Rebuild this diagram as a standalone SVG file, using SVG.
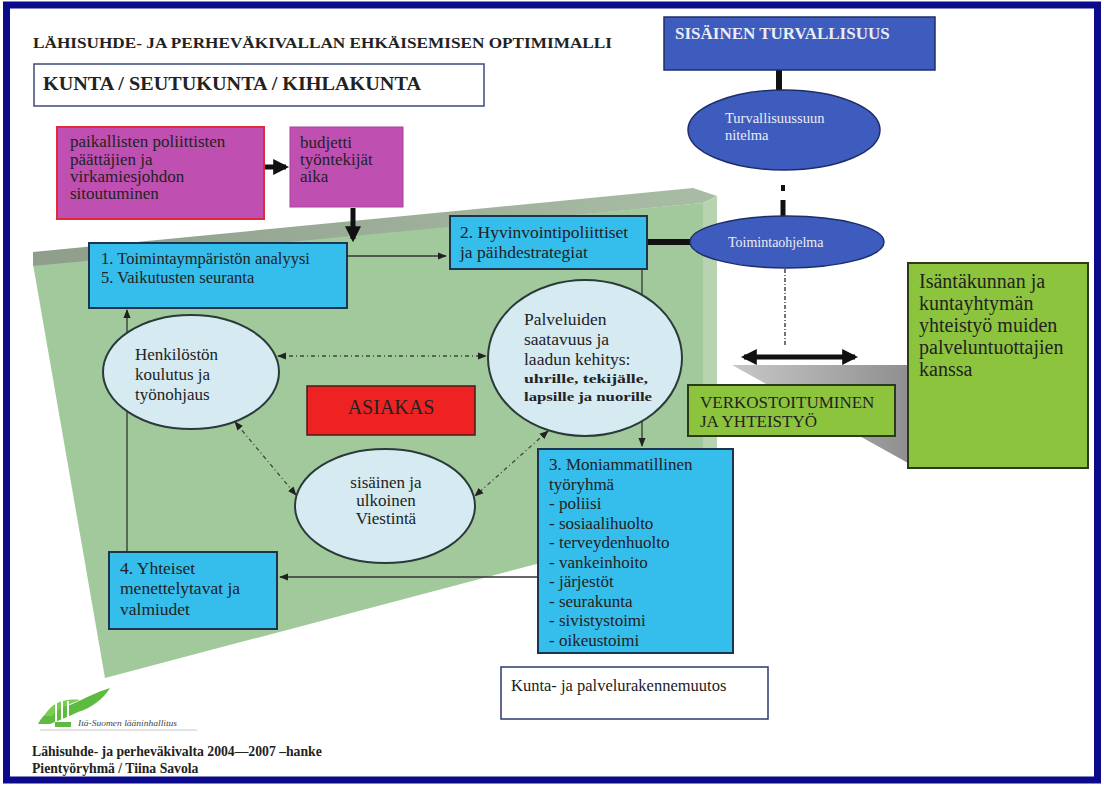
<svg xmlns="http://www.w3.org/2000/svg" width="1104" height="785" viewBox="0 0 1104 785" font-family="'Liberation Serif', 'Times New Roman', serif">
<defs>
<style>
.t{fill:#222;}
.b{font-weight:bold;}
.cyan{fill:#35BDEC;stroke:#1B3550;stroke-width:2;}
.pink{fill:#C04FB2;}
.oval{fill:#D6EAF2;stroke:#2a3a3a;stroke-width:2;}
.blue{fill:#3D5CBE;stroke:#1E2E6A;stroke-width:1.5;}
.lime{fill:#8DC43D;stroke:#2B3A1A;stroke-width:2;}
.thin{stroke:#333;stroke-width:1.3;fill:none;}
.thick{stroke:#111;stroke-width:5;fill:none;}
.dd{stroke:#3a4a3a;stroke-width:1.3;fill:none;stroke-dasharray:4 3 1 3;}
.wt{fill:#ECECF4;}
</style>
<marker id="ah" viewBox="0 0 10 10" refX="9" refY="5" markerWidth="7" markerHeight="7" orient="auto-start-reverse"><path d="M0,1 L10,5 L0,9 z" fill="#222"/></marker>
<marker id="ahb" viewBox="0 0 10 10" refX="8" refY="5" markerWidth="3.2" markerHeight="3.2" orient="auto-start-reverse"><path d="M0,0 L10,5 L0,10 z" fill="#111"/></marker>
<linearGradient id="topg" x1="0" y1="0" x2="1" y2="0"><stop offset="0" stop-color="#8E9E8B"/><stop offset="1" stop-color="#A9BDA5"/></linearGradient>
<linearGradient id="grayg" x1="0" y1="0" x2="1" y2="0"><stop offset="0" stop-color="#C8C8C8"/><stop offset="1" stop-color="#8F8F8F"/></linearGradient>
</defs>
<rect x="0" y="0" width="1104" height="785" fill="#fff"/>
<rect x="6.5" y="5" width="1091" height="775" fill="#fff" stroke="#0A0A8A" stroke-width="7"/>

<g id="slab">
<polygon points="33,264 703,203 703,520 105,678" fill="#A2C99C"/>
<polygon points="33,252 693,188 717,196 703,203 33,266" fill="url(#topg)"/>
<polygon points="703,203 717,196 717,513 703,520" fill="#B7D3B0"/>
</g>

<polygon id="shadow" points="732,365 908,365 908,463" fill="url(#grayg)"/>

<text class="t b" x="33" y="48" font-size="14.5" textLength="579" lengthAdjust="spacingAndGlyphs">LÄHISUHDE- JA PERHEVÄKIVALLAN EHKÄISEMISEN OPTIMIMALLI</text>

<g id="kunta">
<rect x="34" y="64" width="450" height="42" fill="#fff" stroke="#3A4A7A" stroke-width="1.5"/>
<text class="t b" x="43" y="90" font-size="18" textLength="378" lengthAdjust="spacingAndGlyphs">KUNTA / SEUTUKUNTA / KIHLAKUNTA</text>
</g>

<g id="connectors">
<line class="thick" x1="265" y1="167" x2="286" y2="167" marker-end="url(#ahb)"/>
<line class="thick" x1="353" y1="208" x2="353" y2="239" marker-end="url(#ahb)"/>
<line class="thin" x1="347" y1="256" x2="446" y2="256" marker-end="url(#ah)"/>
<line class="thin" x1="642" y1="269" x2="642" y2="446" marker-end="url(#ah)"/>
<line stroke="#111" stroke-width="6" x1="647" y1="242" x2="692" y2="242"/>
<line stroke="#111" stroke-width="6" x1="779" y1="70" x2="779" y2="91"/>
<line stroke="#111" stroke-width="4" x1="783" y1="185" x2="783" y2="191"/>
<line stroke="#111" stroke-width="5" x1="783" y1="200" x2="783" y2="217"/>
<line stroke="#444" stroke-width="1.5" stroke-dasharray="4 2 1 2" x1="785" y1="269" x2="785" y2="347"/>
<line class="thick" x1="744" y1="357" x2="855" y2="357" marker-start="url(#ahb)" marker-end="url(#ahb)"/>
<line class="dd" x1="278" y1="356" x2="486" y2="356" marker-start="url(#ah)" marker-end="url(#ah)"/>
<line class="dd" x1="235" y1="422" x2="296" y2="495" marker-start="url(#ah)" marker-end="url(#ah)"/>
<line class="dd" x1="548" y1="431" x2="475" y2="496" marker-start="url(#ah)" marker-end="url(#ah)"/>
<line class="thin" x1="538" y1="577" x2="280" y2="577" marker-end="url(#ah)"/>
<line class="thin" x1="127" y1="552" x2="127" y2="310" marker-end="url(#ah)"/>
</g>

<g id="pink1">
<rect class="pink" x="57" y="127" width="207" height="92" stroke="#E02A3A" stroke-width="2"/>
<text class="t" font-size="17"><tspan x="70" y="147">paikallisten poliittisten</tspan><tspan x="70" y="165">päättäjien ja</tspan><tspan x="70" y="182">virkamiesjohdon</tspan><tspan x="70" y="199">sitoutuminen</tspan></text>
</g>

<g id="pink2">
<rect class="pink" x="290" y="127" width="113" height="80" stroke="#A8409E" stroke-width="1"/>
<text class="t" font-size="17"><tspan x="300" y="148">budjetti</tspan><tspan x="300" y="165">työntekijät</tspan><tspan x="300" y="182">aika</tspan></text>
</g>

<g id="box1">
<rect class="cyan" x="89" y="243" width="258" height="65"/>
<text class="t" font-size="16.5"><tspan x="101" y="264">1. Toimintaympäristön analyysi</tspan><tspan x="101" y="283">5. Vaikutusten seuranta</tspan></text>
</g>

<g id="box2">
<rect class="cyan" x="450" y="216" width="197" height="53"/>
<text class="t" font-size="17.5"><tspan x="460" y="238">2. Hyvinvointipoliittiset</tspan><tspan x="460" y="258">ja päihdestrategiat</tspan></text>
</g>

<g id="sisturv">
<rect class="blue" x="664" y="17" width="271" height="53"/>
<text class="b wt" x="675" y="39" font-size="17">SISÄINEN TURVALLISUUS</text>
</g>

<g id="turv">
<ellipse class="blue" cx="784" cy="130" rx="96" ry="40"/>
<text class="wt" font-size="14.5"><tspan x="725" y="123">Turvallisuussuun</tspan><tspan x="725" y="140">nitelma</tspan></text>
</g>

<g id="toim">
<ellipse class="blue" cx="787" cy="242" rx="97" ry="26"/>
<text class="wt" x="728" y="247" font-size="14">Toimintaohjelma</text>
</g>

<g id="verkosto">
<rect class="lime" x="688" y="385" width="207" height="51"/>
<text class="t" font-size="17"><tspan x="700" y="408">VERKOSTOITUMINEN</tspan><tspan x="700" y="427">JA YHTEISTYÖ</tspan></text>
</g>

<g id="isanta">
<rect class="lime" x="908" y="263" width="180" height="205"/>
<text class="t" font-size="20"><tspan x="919" y="288">Isäntäkunnan ja</tspan><tspan x="919" y="310">kuntayhtymän</tspan><tspan x="919" y="332">yhteistyö muiden</tspan><tspan x="919" y="354">palveluntuottajien</tspan><tspan x="919" y="376">kanssa</tspan></text>
</g>

<g id="henk">
<ellipse class="oval" cx="191" cy="372" rx="88" ry="57"/>
<text class="t" font-size="17"><tspan x="135" y="360">Henkilöstön</tspan><tspan x="135" y="380">koulutus ja</tspan><tspan x="135" y="400">työnohjaus</tspan></text>
</g>

<g id="asiakas">
<rect x="307" y="386" width="168" height="49" fill="#EE2222" stroke="#4A1A1A" stroke-width="1.5"/>
<text class="t" x="391" y="414" font-size="20" text-anchor="middle">ASIAKAS</text>
</g>

<g id="palvelu">
<ellipse class="oval" cx="585" cy="358" rx="97" ry="78"/>
<text class="t" font-size="17.5"><tspan x="524" y="325">Palveluiden</tspan><tspan x="524" y="345">saatavuus ja</tspan><tspan x="524" y="365">laadun kehitys:</tspan></text>
<text class="t b" font-size="13.5"><tspan x="524" y="383" textLength="124" lengthAdjust="spacingAndGlyphs">uhrille, tekijälle,</tspan><tspan x="524" y="401" textLength="128" lengthAdjust="spacingAndGlyphs">lapsille ja nuorille</tspan></text>
</g>

<g id="viestinta">
<ellipse class="oval" cx="385" cy="506" rx="90" ry="57"/>
<text class="t" font-size="17" text-anchor="middle"><tspan x="386" y="488">sisäinen ja</tspan><tspan x="386" y="506">ulkoinen</tspan><tspan x="386" y="524">Viestintä</tspan></text>
</g>

<g id="box3">
<rect class="cyan" x="538" y="449" width="195" height="204"/>
<text class="t" font-size="17"><tspan x="549" y="470">3. Moniammatillinen</tspan><tspan x="549" y="490">työryhmä</tspan><tspan x="549" y="509">- poliisi</tspan><tspan x="549" y="529">- sosiaalihuolto</tspan><tspan x="549" y="548">- terveydenhuolto</tspan><tspan x="549" y="568">- vankeinhoito</tspan><tspan x="549" y="587">- järjestöt</tspan><tspan x="549" y="607">- seurakunta</tspan><tspan x="549" y="626">- sivistystoimi</tspan><tspan x="549" y="646">- oikeustoimi</tspan></text>
</g>

<g id="box4">
<rect class="cyan" x="109" y="552" width="168" height="77"/>
<text class="t" font-size="17.5"><tspan x="120" y="574">4. Yhteiset</tspan><tspan x="120" y="594">menettelytavat ja</tspan><tspan x="120" y="615">valmiudet</tspan></text>
</g>

<g id="rakenne">
<rect x="501" y="667" width="267" height="52" fill="#fff" stroke="#2A3A6A" stroke-width="1.5"/>
<text class="t" x="511" y="691" font-size="16.5">Kunta- ja palvelurakennemuutos</text>
</g>

<g id="logo">
<path d="M38,724 C44,712 56,706 70,705 C82,700 94,693 110,688 C104,698 92,708 78,712 C70,716 60,720 50,724 Z" fill="#5DBB3F"/>
<path d="M44,716 C52,702 66,698 80,700 C70,704 58,708 52,716 Z" fill="#7ACC55"/>
<rect x="55" y="701" width="2" height="21" fill="#fff"/>
<rect x="61" y="699" width="2" height="23" fill="#fff"/>
<rect x="67" y="701" width="2" height="21" fill="#fff"/>
<rect x="55" y="722" width="16" height="5" fill="#5DBB3F"/>
<text x="78" y="726" font-style="italic" font-size="8" fill="#444" textLength="99" lengthAdjust="spacingAndGlyphs">Itä-Suomen lääninhallitus</text>
<line x1="40" y1="730" x2="197" y2="730" stroke="#bbb" stroke-width="0.8"/>
</g>

<text class="t b" x="32" y="756" font-size="13.7">Lähisuhde- ja perheväkivalta 2004—2007 –hanke</text>
<text class="t b" x="32" y="773" font-size="13.7">Pientyöryhmä / Tiina Savola</text>
</svg>
